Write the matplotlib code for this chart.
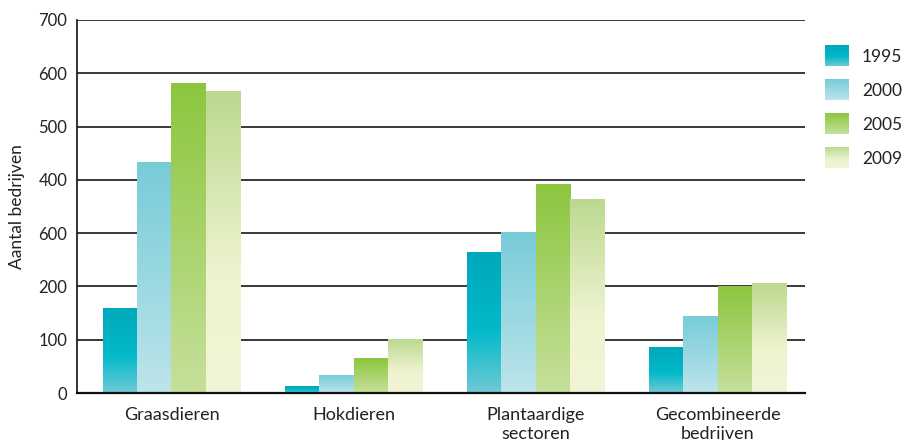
import numpy as np
import matplotlib
matplotlib.use("Agg")
import matplotlib.pyplot as plt
from matplotlib.colors import to_rgb

plt.rcParams["font.family"] = ["Lato", "DejaVu Sans"]

categories = ["Graasdieren", "Hokdieren", "Plantaardige\nsectoren", "Gecombineerde\nbedrijven"]
years = ["1995", "2000", "2005", "2009"]
values = {
    "1995": [158, 13, 264, 86],
    "2000": [433, 32, 302, 144],
    "2005": [580, 64, 392, 199],
    "2009": [565, 100, 364, 206],
}
ytick_values = [0, 100, 200, 300, 400, 500, 600, 700]
ytick_labels = ["0", "100", "200", "600", "400", "500", "600", "700"]

# gradient stops per series: (fraction from top, colour)
stops = {
    "1995": [(0.0, "#00a8bb"), (0.55, "#00b9c9"), (1.0, "#70cad6")],
    "2000": [(0.0, "#77ccd8"), (1.0, "#bde4eb")],
    "2005": [(0.0, "#8cc63e"), (1.0, "#c6e09b")],
    "2009": [(0.0, "#bbd990"), (0.6, "#eef3cf"), (1.0, "#f2f5d6")],
}


def gradient(year, n=200):
    pos = [s[0] for s in stops[year]]
    cols = np.array([to_rgb(s[1]) for s in stops[year]])
    t = np.linspace(0, 1, n)
    img = np.stack([np.interp(t, pos, cols[:, i]) for i in range(3)], axis=-1)
    return img[:, None, :]


fig = plt.figure(figsize=(9.13, 4.40), dpi=100)
ax = fig.add_axes([77 / 913, 1 - 393 / 440, (805 - 77) / 913, (393 - 20) / 440])

x = np.arange(len(categories))
width = 0.188
for i, year in enumerate(years):
    offs = (i - 1.5) * width
    bars = ax.bar(x + offs, values[year], width, color=stops[year][0][1], linewidth=0, zorder=2)
    for b in bars:
        x0, h, w = b.get_x(), b.get_height(), b.get_width()
        ax.imshow(gradient(year), extent=(x0, x0 + w, 0, h), aspect="auto",
                  interpolation="bilinear", zorder=3)

ax.set_xlim(-0.519, 3.48)
ax.set_ylim(0, 700)
ax.set_yticks(ytick_values)
ax.set_yticklabels(ytick_labels, fontsize=12, color="#222222")
ax.set_xticks(x)
ax.set_xticklabels(categories, fontsize=13, color="#222222", linespacing=1.25)
ax.tick_params(axis="both", length=0)
ax.tick_params(axis="y", pad=7)
ax.tick_params(axis="x", pad=10)
ax.yaxis.grid(True, color="#2a2a2a", linewidth=1.3, zorder=1)
ax.set_axisbelow(True)
for s in ["top", "right"]:
    ax.spines[s].set_visible(False)
ax.spines["left"].set_color("#111111")
ax.spines["left"].set_linewidth(1.2)
ax.spines["bottom"].set_color("#111111")
ax.spines["bottom"].set_linewidth(1.6)
ax.spines["bottom"].set_zorder(4)
ax.set_ylabel("Aantal bedrijven", fontsize=12.5, color="#222222", labelpad=10)

# legend drawn in pixel coordinates
lax = fig.add_axes([0, 0, 1, 1])
lax.set_xlim(0, 913)
lax.set_ylim(440, 0)
lax.axis("off")
lax.patch.set_alpha(0)
for i, year in enumerate(years):
    top = 45 + i * 34
    lax.imshow(gradient(year), extent=(825, 849, top + 21, top), aspect="auto",
               interpolation="bilinear")
    lax.text(862, top + 12, year, fontsize=12.5, color="#222222", va="center", ha="left")
lax.set_xlim(0, 913)
lax.set_ylim(440, 0)

fig.savefig("out.png", dpi=100)
